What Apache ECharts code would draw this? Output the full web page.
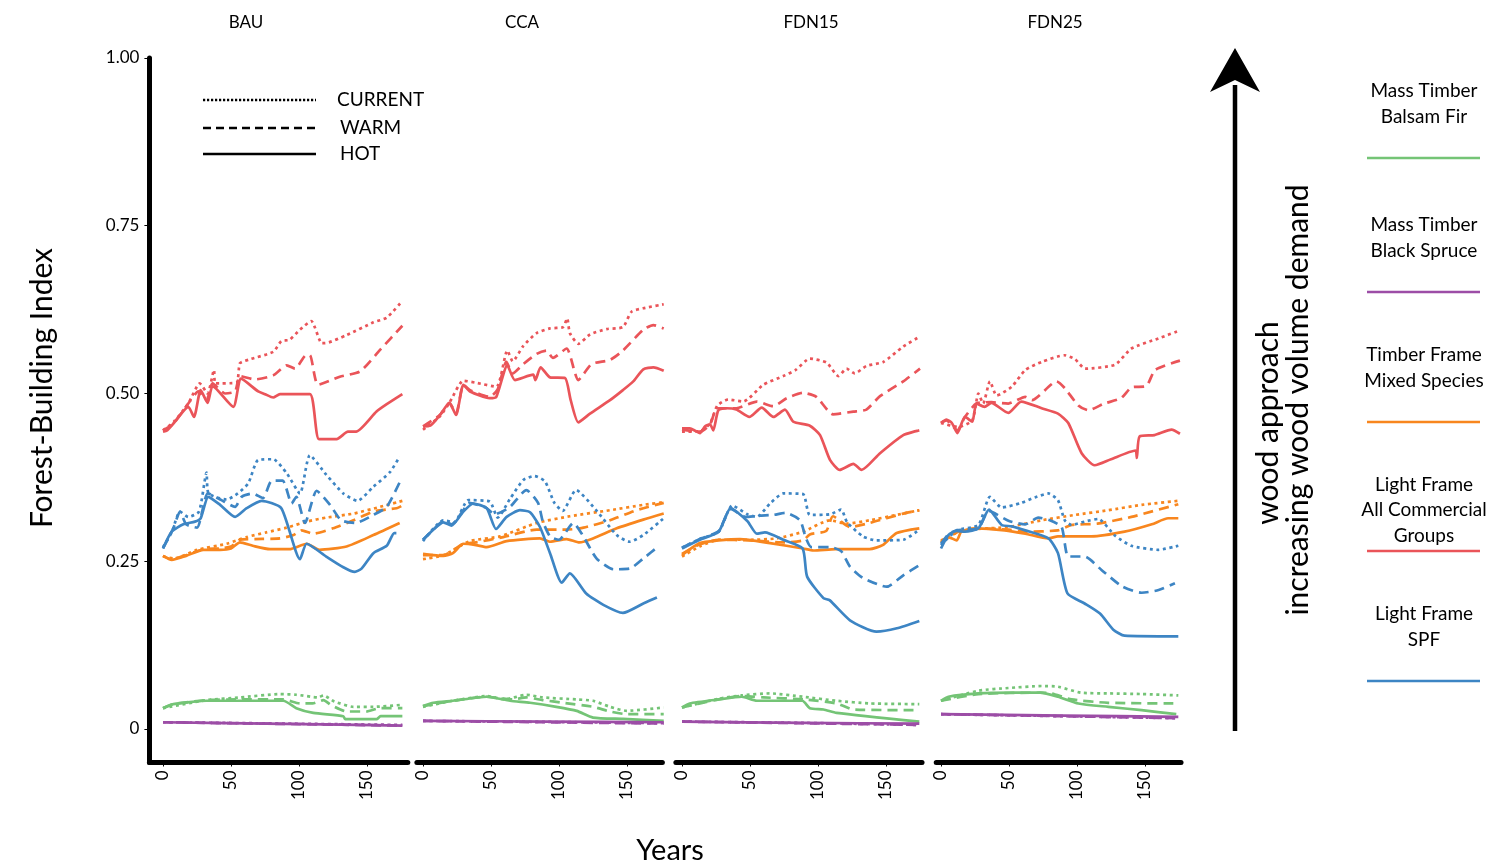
<!DOCTYPE html>
<html>
<head>
<meta charset="utf-8">
<script src="https://cdn.jsdelivr.net/npm/echarts@6/dist/echarts.min.js"></script>
<style>
  html, body { margin: 0; padding: 0; background: #fff; }
  #main { width: 1503px; height: 866px; }
</style>
</head>
<body>
<div id="main"></div>
<script>
// ---- data: [year, index] pairs ----
var panels = ['BAU', 'CCA', 'FDN15', 'FDN25'];
var scenarios = ['CURRENT', 'WARM', 'HOT'];
var species = ['Mass Timber\nBalsam Fir', 'Mass Timber\nBlack Spruce', 'Timber Frame\nMixed Species', 'Light Frame\nAll Commercial\nGroups', 'Light Frame\nSPF'];
var yTicks = [0, 0.25, 0.5, 0.75, 1];
var xTicks = [0, 50, 100, 150];

// BAU
var bauRedCur = [[0,0.445],[8,0.458],[18.6,0.485],[27,0.515],[32.8,0.5],[37.5,0.535],[38.5,0.515],[54,0.516],[56.6,0.545],[64,0.551],[81,0.562],[87,0.578],[93,0.58],[100.7,0.595],[109,0.608],[116.7,0.575],[119,0.575],[135,0.587],[154.7,0.606],[164.5,0.613],[176,0.638]];
var bauRedWarm = [[0,0.445],[7.6,0.455],[18.6,0.485],[26,0.503],[32,0.49],[36.5,0.515],[45.6,0.5],[53,0.503],[56.6,0.526],[67.6,0.521],[81,0.527],[91,0.542],[97,0.537],[104.4,0.556],[108,0.557],[114,0.513],[130,0.525],[145,0.533],[159.6,0.565],[176,0.601]];
var bauRedHot = [[0,0.443],[3,0.445],[8,0.456],[18.6,0.48],[22.8,0.465],[27.7,0.505],[32.8,0.486],[36.5,0.511],[51.7,0.48],[57.4,0.522],[70,0.503],[75,0.499],[81,0.494],[86,0.499],[108,0.499],[114.7,0.432],[127.7,0.432],[136,0.443],[142,0.443],[157,0.473],[164.5,0.484],[176,0.499]];
var bauBlueCur = [[0,0.271],[6.4,0.293],[12.5,0.324],[18.6,0.316],[26.5,0.324],[32,0.382],[33.5,0.351],[46.8,0.342],[55,0.351],[62.7,0.366],[70,0.401],[81,0.402],[91,0.381],[100.7,0.351],[108,0.408],[120,0.379],[132.6,0.351],[143,0.34],[154.7,0.361],[167,0.383],[174,0.406]];
var bauBlueWarm = [[0,0.269],[7.6,0.299],[12.5,0.324],[17,0.305],[25,0.3],[33,0.351],[43,0.341],[53,0.331],[57.8,0.346],[66,0.351],[73.5,0.344],[80,0.37],[88,0.37],[94.6,0.336],[98,0.346],[104.4,0.307],[113,0.355],[122.8,0.334],[131,0.311],[141.6,0.307],[154.7,0.319],[164.5,0.331],[175.5,0.374]];
var bauBlueHot = [[0,0.269],[6.4,0.294],[15,0.305],[23.5,0.309],[27.7,0.314],[33.3,0.346],[42,0.334],[53,0.316],[61.5,0.329],[72.5,0.34],[87,0.329],[100.7,0.253],[105.6,0.276],[120,0.257],[132.6,0.241],[141,0.234],[146,0.239],[154.7,0.262],[164.5,0.273],[170,0.292],[171.6,0.292]];
var bauOrCur = [[0,0.257],[8,0.254],[25,0.267],[46.8,0.276],[61.5,0.286],[76,0.293],[91,0.3],[105.6,0.309],[120,0.315],[140,0.321],[159.6,0.331],[176,0.34]];
var bauOrWarm = [[0,0.258],[6.4,0.253],[17,0.259],[29.7,0.268],[42,0.269],[50,0.272],[56.6,0.282],[67.6,0.283],[86,0.284],[96,0.289],[102,0.296],[110.5,0.291],[125,0.299],[140,0.311],[154.7,0.324],[171.8,0.329],[176,0.333]];
var bauOrHot = [[0,0.258],[6.4,0.252],[17,0.258],[29.7,0.267],[42,0.267],[50,0.269],[56.6,0.278],[66,0.273],[78.7,0.268],[93,0.268],[105.6,0.276],[115,0.267],[135,0.272],[154.7,0.289],[174,0.307]];
var bauGrCur = [[0,0.031],[32,0.043],[56.6,0.047],[86,0.052],[98,0.051],[114,0.047],[118,0.05],[126,0.041],[140,0.033],[154.7,0.033],[176,0.036]];
var bauGrWarm = [[0,0.031],[7.6,0.037],[32,0.043],[56.6,0.044],[88.5,0.044],[100.7,0.038],[110,0.038],[118,0.043],[124,0.035],[135,0.026],[149.6,0.026],[159.6,0.031],[176,0.031]];
var bauGrHot = [[0,0.031],[7.6,0.037],[32,0.042],[56.6,0.042],[88.5,0.042],[98,0.031],[110.5,0.024],[132.6,0.019],[134,0.0145],[157,0.0145],[160,0.019],[176,0.019]];
var bauPuCur = [[0,0.010],[90,0.008],[176,0.006]];
var bauPuWarm = [[0,0.010],[90,0.0075],[176,0.005]];
var bauPuHot = [[0,0.010],[90,0.0075],[176,0.005]];

// CCA
var ccaRedCur = [[0,0.446],[12.5,0.466],[19.4,0.486],[29.7,0.519],[39,0.516],[54,0.51],[62,0.564],[66,0.548],[73.8,0.571],[83.6,0.59],[93.4,0.597],[103,0.599],[106,0.612],[108,0.59],[114.2,0.574],[122.8,0.588],[135,0.596],[147,0.599],[153.4,0.622],[162,0.627],[177,0.633]];
var ccaRedWarm = [[0,0.451],[12.5,0.468],[19.4,0.486],[24.3,0.47],[29.7,0.513],[34.6,0.505],[49,0.495],[54.9,0.506],[61.3,0.547],[66,0.53],[73.8,0.544],[83.6,0.559],[90.7,0.564],[95.6,0.553],[105.6,0.567],[114.2,0.52],[124,0.544],[137.5,0.55],[147,0.564],[162,0.595],[169.4,0.602],[177,0.597]];
var ccaRedHot = [[0,0.451],[5.4,0.452],[12.5,0.468],[19.4,0.486],[24.3,0.468],[29.7,0.513],[34.6,0.503],[49,0.493],[53.9,0.495],[62,0.542],[67.6,0.52],[81,0.528],[82.6,0.52],[86.5,0.539],[93.4,0.524],[104.4,0.523],[108.6,0.49],[114.2,0.457],[122.8,0.47],[137.5,0.49],[147,0.505],[154.6,0.518],[162,0.536],[169.4,0.539],[177,0.534]];
var ccaBlueCur = [[0,0.28],[15,0.311],[23,0.308],[33.3,0.341],[49,0.339],[54.9,0.315],[64,0.343],[73.8,0.371],[82,0.377],[89.7,0.369],[96.6,0.337],[102.7,0.325],[112.5,0.356],[127.7,0.325],[142.4,0.289],[152,0.279],[162,0.289],[177,0.314]];
var ccaBlueWarm = [[0,0.282],[7.6,0.297],[15,0.31],[21,0.305],[29.7,0.326],[33.5,0.337],[46,0.33],[53,0.32],[64,0.331],[76,0.356],[84.6,0.337],[88,0.31],[93.4,0.287],[100,0.282],[110.5,0.307],[117,0.29],[127.7,0.254],[140,0.238],[152,0.239],[162,0.254],[173,0.272]];
var ccaBlueHot = [[0,0.282],[7.6,0.297],[15,0.308],[21,0.303],[29.7,0.324],[37,0.336],[46.8,0.329],[53.7,0.298],[61.5,0.316],[71.3,0.326],[78.7,0.323],[86,0.301],[93.4,0.262],[102,0.218],[108,0.232],[120,0.202],[132.6,0.185],[147,0.173],[162,0.187],[172,0.196]];
var ccaOrCur = [[0,0.253],[15,0.259],[34.6,0.28],[56.6,0.287],[83.6,0.307],[108,0.317],[137.5,0.326],[162,0.334],[177,0.338]];
var ccaOrWarm = [[0,0.259],[15,0.259],[29.7,0.276],[39,0.278],[59,0.286],[83.6,0.297],[105.6,0.297],[118,0.3],[137.5,0.311],[157,0.326],[177,0.337]];
var ccaOrHot = [[0,0.261],[15,0.258],[22,0.262],[29.7,0.276],[39,0.274],[46.8,0.271],[61.5,0.28],[86,0.284],[93.4,0.279],[105.6,0.283],[115,0.278],[125,0.284],[142.4,0.299],[162,0.312],[177,0.321]];
var ccaGrCur = [[0,0.033],[22,0.042],[46.8,0.049],[60,0.044],[76,0.051],[88,0.047],[113,0.044],[125,0.042],[137.5,0.033],[150,0.027],[177,0.032]];
var ccaGrWarm = [[0,0.034],[22,0.042],[46.8,0.048],[66,0.044],[76,0.047],[88,0.043],[103,0.039],[125,0.033],[137.5,0.026],[150,0.022],[177,0.022]];
var ccaGrHot = [[0,0.034],[7.6,0.039],[22,0.042],[46.8,0.048],[64,0.042],[78.7,0.039],[98,0.033],[113,0.027],[125,0.017],[147,0.015],[177,0.012]];
var ccaPuCur = [[0,0.012],[90,0.0105],[177,0.0085]];
var ccaPuWarm = [[0,0.012],[90,0.010],[177,0.008]];
var ccaPuHot = [[0,0.012],[90,0.011],[177,0.010]];

// FDN15
var f15RedCur = [[0,0.443],[13.2,0.444],[20.6,0.455],[26,0.482],[34,0.491],[45,0.488],[59.8,0.513],[74.5,0.526],[83.6,0.535],[94,0.552],[106.3,0.546],[115,0.526],[121,0.537],[127,0.53],[135.6,0.541],[148,0.547],[162.7,0.57],[175,0.585]];
var f15RedWarm = [[0,0.446],[13.2,0.443],[20.6,0.454],[26,0.478],[40,0.478],[55,0.488],[67,0.481],[77,0.493],[89,0.501],[98.8,0.495],[111,0.469],[126,0.473],[135.6,0.476],[145.6,0.496],[162.7,0.518],[175,0.537]];
var f15RedHot = [[0,0.448],[5.8,0.448],[10,0.444],[13.2,0.441],[17,0.451],[20.6,0.454],[23,0.445],[26.7,0.475],[32.8,0.478],[40,0.476],[49.5,0.465],[58.6,0.479],[67.2,0.465],[75.7,0.476],[81.8,0.458],[94,0.452],[101.5,0.438],[108.8,0.401],[116,0.386],[126,0.395],[132,0.386],[145.6,0.411],[162.7,0.438],[174.5,0.445]];
var f15BlueCur = [[0,0.27],[13,0.283],[27,0.294],[37,0.333],[48,0.32],[55,0.316],[64.7,0.336],[74.5,0.351],[89,0.35],[94,0.319],[109,0.32],[117,0.327],[121.4,0.308],[133,0.287],[143,0.281],[162.7,0.282],[174.5,0.297]];
var f15BlueWarm = [[0,0.27],[13,0.283],[27,0.295],[35.8,0.328],[47,0.316],[57,0.318],[67,0.319],[76,0.322],[86.8,0.311],[91,0.285],[95,0.271],[109,0.271],[117,0.265],[123.5,0.242],[133,0.225],[150.5,0.212],[162.7,0.229],[174.5,0.244]];
var f15BlueHot = [[0,0.269],[13,0.282],[27,0.294],[35.8,0.329],[48,0.31],[55,0.291],[61,0.293],[74.5,0.282],[88.7,0.269],[92,0.227],[104,0.195],[108.5,0.192],[123.5,0.162],[143,0.145],[158,0.15],[174.5,0.161]];
var f15OrCur = [[0,0.257],[13,0.272],[27,0.282],[50,0.282],[69.7,0.284],[89,0.294],[108.8,0.311],[121,0.306],[138,0.311],[157.8,0.319],[174.5,0.326]];
var f15OrWarm = [[0,0.261],[13,0.275],[27,0.282],[50,0.281],[76,0.278],[89,0.281],[94,0.29],[106,0.295],[111,0.317],[123.5,0.301],[138,0.307],[162.7,0.321],[174.5,0.326]];
var f15OrHot = [[0,0.259],[13,0.277],[27,0.281],[42.6,0.283],[64.7,0.277],[89,0.269],[96.6,0.266],[113,0.268],[138,0.268],[147.5,0.274],[157.8,0.292],[174.5,0.299]];
var f15GrCur = [[0,0.032],[27,0.045],[43.9,0.05],[64.7,0.053],[89,0.048],[113.7,0.042],[138,0.038],[174.5,0.037]];
var f15GrWarm = [[0,0.032],[27,0.044],[43.9,0.049],[60,0.047],[90,0.044],[113.7,0.038],[126,0.029],[174.5,0.028]];
var f15GrHot = [[0,0.032],[5.6,0.038],[27,0.044],[43.9,0.048],[55,0.042],[88.5,0.042],[94,0.031],[104,0.029],[113.7,0.024],[174.5,0.011]];
var f15PuCur = [[0,0.011],[90,0.009],[174.5,0.006]];
var f15PuWarm = [[0,0.011],[90,0.0085],[174.5,0.006]];
var f15PuHot = [[0,0.011],[90,0.009],[174.5,0.008]];

// FDN25
var f25RedCur = [[0,0.456],[12.5,0.45],[23,0.46],[27.5,0.5],[31,0.485],[36,0.518],[41,0.497],[52,0.51],[62,0.535],[74,0.547],[91,0.557],[98.6,0.551],[106,0.537],[128,0.543],[140,0.567],[159.8,0.582],[175.7,0.594]];
var f25RedWarm = [[0,0.456],[4,0.46],[12,0.445],[17.6,0.465],[26,0.485],[37,0.487],[49.5,0.485],[62,0.495],[66.9,0.49],[85,0.518],[91,0.508],[101,0.482],[108.3,0.475],[120,0.485],[132.4,0.493],[140,0.509],[151,0.511],[157.4,0.535],[175.7,0.549]];
var f25RedHot = [[0,0.456],[4,0.461],[8,0.456],[12,0.441],[17.6,0.465],[23,0.458],[26,0.485],[32,0.48],[37,0.486],[49.5,0.471],[59,0.488],[74,0.478],[86,0.47],[93.6,0.456],[103.4,0.411],[113,0.393],[125,0.402],[143,0.415],[144,0.404],[146,0.436],[157,0.438],[169.6,0.446],[175.7,0.44]];
var f25BlueCur = [[0,0.274],[11.5,0.296],[27.5,0.304],[36,0.346],[44.6,0.33],[59,0.337],[69,0.345],[79,0.351],[86,0.341],[91,0.311],[96,0.304],[105.6,0.309],[115.6,0.313],[128,0.288],[140,0.273],[159.8,0.267],[174.5,0.273]];
var f25BlueWarm = [[0,0.276],[5.4,0.29],[11.5,0.296],[27.5,0.299],[35,0.325],[50,0.31],[62,0.305],[71.5,0.315],[80,0.311],[88.7,0.301],[93.6,0.257],[105.6,0.257],[118,0.237],[132.8,0.213],[147.5,0.203],[160,0.207],[172,0.217]];
var f25BlueHot = [[0,0.269],[5.4,0.289],[11.5,0.295],[17.6,0.294],[27.5,0.299],[35.3,0.327],[44.6,0.304],[52,0.302],[62,0.296],[79,0.284],[86,0.262],[93,0.202],[105.6,0.187],[116.9,0.172],[126.7,0.148],[135,0.139],[174.5,0.138]];
var f25OrCur = [[0,0.281],[15,0.295],[27,0.298],[49.5,0.301],[74,0.311],[98.5,0.319],[123,0.326],[147.5,0.334],[174.5,0.34]];
var f25OrWarm = [[0,0.279],[15,0.296],[27,0.299],[50,0.297],[62,0.294],[86,0.296],[96,0.304],[115,0.306],[140,0.316],[174.5,0.335]];
var f25OrHot = [[0,0.278],[5.4,0.286],[11.5,0.281],[15,0.294],[27,0.299],[46.8,0.296],[62,0.291],[79,0.284],[86,0.287],[110.5,0.287],[135,0.294],[155,0.305],[167,0.314],[174.5,0.314]];
var f25GrCur = [[0,0.042],[27.5,0.057],[49.5,0.061],[74,0.064],[86,0.063],[103,0.054],[123,0.053],[147.5,0.052],[174.5,0.05]];
var f25GrWarm = [[0,0.042],[27.5,0.052],[72.8,0.054],[81,0.053],[96,0.044],[123,0.039],[174.5,0.038]];
var f25GrHot = [[0,0.042],[5.4,0.048],[27.5,0.053],[52,0.054],[72.8,0.054],[86,0.048],[101,0.038],[123,0.033],[147.5,0.028],[173,0.022]];
var f25PuCur = [[0,0.022],[90,0.019],[174.5,0.016]];
var f25PuWarm = [[0,0.022],[90,0.019],[174.5,0.016]];
var f25PuHot = [[0,0.022],[90,0.020],[174.5,0.018]];

// species order: green, purple, orange, red, blue ; each [CURRENT, WARM, HOT]
var panelData = [
    [[bauGrCur, bauGrWarm, bauGrHot], [bauPuCur, bauPuWarm, bauPuHot], [bauOrCur, bauOrWarm, bauOrHot], [bauRedCur, bauRedWarm, bauRedHot], [bauBlueCur, bauBlueWarm, bauBlueHot]],
    [[ccaGrCur, ccaGrWarm, ccaGrHot], [ccaPuCur, ccaPuWarm, ccaPuHot], [ccaOrCur, ccaOrWarm, ccaOrHot], [ccaRedCur, ccaRedWarm, ccaRedHot], [ccaBlueCur, ccaBlueWarm, ccaBlueHot]],
    [[f15GrCur, f15GrWarm, f15GrHot], [f15PuCur, f15PuWarm, f15PuHot], [f15OrCur, f15OrWarm, f15OrHot], [f15RedCur, f15RedWarm, f15RedHot], [f15BlueCur, f15BlueWarm, f15BlueHot]],
    [[f25GrCur, f25GrWarm, f25GrHot], [f25PuCur, f25PuWarm, f25PuHot], [f25OrCur, f25OrWarm, f25OrHot], [f25RedCur, f25RedWarm, f25RedHot], [f25BlueCur, f25BlueWarm, f25BlueHot]]
];

// ---- styling ----
var FONT = 'Lato, "Open Sans", sans-serif';
var colors = ['#74c476', '#9c4da6', '#f8861e', '#ea5459', '#3d85c4'];
var dashes = [[3, 3.6], [10, 6], 'solid'];
var PX_PER_YEAR = 1.36;
var zeroX = [163, 423, 682, 941];
var xMins = [-10, -4.5, -4.5, -3.5];
var xMaxs = [180, 176, 176.5, 176.5];
var titleX = [246, 522, 811, 1055];

var chartDom = document.getElementById('main');
var myChart = echarts.init(chartDom);

var grids = [], xAxes = [], yAxes = [], series = [];

for (var p = 0; p < 4; p++) {
    grids.push({
        left: zeroX[p] + xMins[p] * PX_PER_YEAR,
        width: (xMaxs[p] - xMins[p]) * PX_PER_YEAR,
        top: 58,
        height: 704.5
    });
    xAxes.push({
        type: 'value',
        gridIndex: p,
        min: xMins[p],
        max: xMaxs[p],
        splitLine: { show: false },
        axisLine: { show: true, onZero: false, lineStyle: { color: '#000', width: 5, cap: 'round' } },
        axisTick: { show: true, length: 4, customValues: xTicks, lineStyle: { color: '#000', width: 1 } },
        axisLabel: {
            customValues: xTicks,
            rotate: 90,
            margin: 8,
            color: '#000',
            fontSize: 17,
            fontFamily: FONT
        }
    });
    yAxes.push({
        type: 'value',
        gridIndex: p,
        min: -0.05,
        max: 1.0,
        show: p === 0,
        splitLine: { show: false },
        axisLine: { show: true, onZero: false, lineStyle: { color: '#000', width: 5 } },
        axisTick: { show: true, length: 5, customValues: yTicks, lineStyle: { color: '#000', width: 1 } },
        axisLabel: {
            customValues: yTicks,
            margin: 10,
            color: '#000',
            fontSize: 17,
            fontFamily: FONT,
            formatter: function (v) { return v === 0 ? '0' : v.toFixed(2); }
        }
    });

    for (var s = 0; s < 5; s++) {
        for (var k = 0; k < 3; k++) {
            series.push({
                type: 'line',
                name: panels[p] + ' ' + species[s] + ' ' + scenarios[k],
                xAxisIndex: p,
                yAxisIndex: p,
                data: panelData[p][s][k],
                showSymbol: false,
                symbol: 'none',
                smooth: 0.2,
                silent: true,
                animation: false,
                lineStyle: { color: colors[s], width: 2.7, type: dashes[k], cap: 'butt', join: 'round' }
            });
        }
    }
}

var graphics = [];

// panel titles
for (var t = 0; t < 4; t++) {
    graphics.push({
        type: 'text', x: titleX[t], y: 23,
        style: { text: panels[t], fill: '#000', font: '17px ' + FONT, textAlign: 'center', textVerticalAlign: 'middle' }
    });
}

// axis titles
graphics.push({
    type: 'text', x: 42, y: 388, rotation: Math.PI / 2,
    style: { text: 'Forest-Building Index', fill: '#000', font: '30px ' + FONT, textAlign: 'center', textVerticalAlign: 'middle' }
});
graphics.push({
    type: 'text', x: 670, y: 851,
    style: { text: 'Years', fill: '#000', font: '29px ' + FONT, textAlign: 'center', textVerticalAlign: 'middle' }
});

// line-type key
var keyY = [100, 128, 154];
var keyTextX = [337, 340, 340];
for (var i = 0; i < 3; i++) {
    graphics.push({
        type: 'line',
        shape: { x1: 203, y1: keyY[i], x2: 316, y2: keyY[i] },
        style: { stroke: '#000', lineWidth: 2.4, lineDash: i === 2 ? null : (i === 0 ? [2.2, 1.8] : [8, 5]) }
    });
    graphics.push({
        type: 'text', x: keyTextX[i], y: keyY[i],
        style: { text: scenarios[i], fill: '#000', font: '19px ' + FONT, textAlign: 'left', textVerticalAlign: 'middle' }
    });
}

// demand arrow
graphics.push({
    type: 'line',
    shape: { x1: 1235, y1: 731, x2: 1235, y2: 85 },
    style: { stroke: '#000', lineWidth: 4.5 }
});
graphics.push({
    type: 'polygon',
    shape: { points: [[1235, 48], [1260, 92], [1235, 80], [1210, 92]] },
    style: { fill: '#000' }
});
graphics.push({
    type: 'text', x: 1268, y: 423, rotation: Math.PI / 2,
    style: { text: 'wood approach', fill: '#000', font: '30px ' + FONT, textAlign: 'center', textVerticalAlign: 'middle' }
});
graphics.push({
    type: 'text', x: 1298, y: 400, rotation: Math.PI / 2,
    style: { text: 'increasing wood volume demand', fill: '#000', font: '30px ' + FONT, textAlign: 'center', textVerticalAlign: 'middle' }
});

// colour key
var legTextY = [104, 238, 368, 510, 627];
var legLineY = [158, 292, 422, 551, 681];
for (var j = 0; j < 5; j++) {
    graphics.push({
        type: 'text', x: 1424, y: legTextY[j],
        style: { text: species[j], fill: '#000', font: '19px ' + FONT, textAlign: 'center', textVerticalAlign: 'middle', lineHeight: 25.5 }
    });
    graphics.push({
        type: 'line',
        shape: { x1: 1367, y1: legLineY[j], x2: 1480, y2: legLineY[j] },
        style: { stroke: colors[j], lineWidth: 2.6 }
    });
}

var option = {
    animation: false,
    backgroundColor: '#fff',
    grid: grids,
    xAxis: xAxes,
    yAxis: yAxes,
    series: series,
    graphic: graphics
};

option && myChart.setOption(option);
</script>
</body>
</html>
